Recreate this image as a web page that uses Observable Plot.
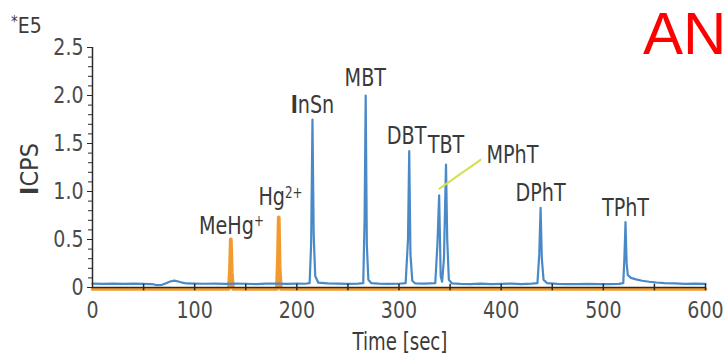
<!DOCTYPE html>
<html><head><meta charset="utf-8">
<script src="https://cdn.jsdelivr.net/npm/d3@7"></script>
<script src="https://cdn.jsdelivr.net/npm/@observablehq/plot@0.6"></script>
<style>
body{margin:0;background:#fff;}
#chart svg{display:block;}
</style></head><body><div id="chart"></div>
<script>
const FONT = '"Liberation Sans Narrow","DejaVu Sans Condensed","Arial Narrow",sans-serif';

// Blue trace (Sn species) – time [sec] and ICPS (×1E5)
const blueTime = [0, 10, 20, 30, 40, 50, 58, 63, 68, 72, 76, 80, 84, 88, 92, 100, 110, 120, 130, 140, 150, 160, 170, 180, 190, 200, 208, 212.5,
  214, 215.3, 216.5, 218, 221, 230, 240, 250, 260, 265, 266.3, 267.4, 268.5, 270, 273, 280, 290, 300, 306.5, 308.8, 310, 311.2, 313, 316,
  325, 335.5, 337.6, 339.3, 340.8, 342.2, 344, 346, 347.2, 348.8, 352, 360, 370, 380, 390, 400, 410, 420, 430, 435.5, 437.3, 438.6, 439.8, 441.5, 445,
  455, 465, 475, 485, 495, 505, 515, 519.5, 520.6, 521.7, 522.8, 524, 527, 532, 538, 545, 552, 560, 570, 580, 590, 600];
const blueICPS = [0.04, 0.038, 0.041, 0.038, 0.04, 0.037, 0.036, 0.025, 0.028, 0.045, 0.062, 0.072, 0.062, 0.05, 0.042, 0.04, 0.039, 0.041, 0.038, 0.04, 0.039, 0.036, 0.04, 0.041, 0.038, 0.04, 0.039, 0.045,
  0.45, 1.75, 0.55, 0.12, 0.05, 0.042, 0.04, 0.038, 0.04, 0.045, 0.7, 2.0, 0.45, 0.08, 0.045, 0.04, 0.037, 0.039, 0.045, 0.5, 1.42, 0.35, 0.07, 0.042,
  0.04, 0.045, 0.45, 0.96, 0.12, 0.06, 0.3, 1.28, 0.5, 0.08, 0.042, 0.038, 0.036, 0.04, 0.035, 0.038, 0.04, 0.036, 0.04, 0.045, 0.35, 0.83, 0.3, 0.08, 0.045,
  0.038, 0.036, 0.035, 0.038, 0.036, 0.035, 0.037, 0.045, 0.3, 0.68, 0.25, 0.13, 0.1, 0.085, 0.07, 0.06, 0.052, 0.046, 0.042, 0.038, 0.04, 0.038];

// Orange trace (Hg species)
const orangeTime = [0, 133.5, 134.6, 135.4, 136.3, 137.5, 180.5, 181.5, 182.3, 183.1, 184.3, 600];
const orangeICPS = [-0.015, -0.015, 0.2, 0.5, 0.16, -0.015, -0.015, 0.3, 0.73, 0.22, -0.015, -0.015];

// Peak labels
const peakNames = ["MeHg+", "Hg2+", "InSn", "MBT", "DBT", "TBT", "MPhT", "DPhT", "TPhT"];
const peakLabelTime = [136, 184, 215.3, 267, 307.5, 346, 411, 438.5, 521.7];
const peakLabelICPS = [0.5625, 0.855, 1.82, 2.10, 1.50, 1.40, 1.30, 0.906, 0.75];

// Leader line for MPhT
const leaderTime = [339.6, 379.8];
const leaderICPS = [1.03, 1.33];

// Ticks
const xTicks = [0, 100, 200, 300, 400, 500, 600];
const xMinorTicks = [50, 100, 150, 200, 250, 300, 350, 400, 450, 500, 550, 600];
const yTicks = [0, 0.5, 1.0, 1.5, 2.0, 2.5];
const yMinorTicks = [0, 0.1, 0.2, 0.3, 0.4, 0.5, 0.6, 0.7, 0.8, 0.9, 1.0, 1.1, 1.2, 1.3, 1.4, 1.5, 1.6, 1.7, 1.8, 1.9, 2.0, 2.1, 2.2, 2.3, 2.4, 2.5];

const blue = blueTime.map((t, i) => ({t, v: blueICPS[i]}));
const orange = orangeTime.map((t, i) => ({t, v: orangeICPS[i]}));
const peaks = peakNames.map((n, i) => ({n, t: peakLabelTime[i], v: peakLabelICPS[i]}));
const leader = leaderTime.map((t, i) => ({t, v: leaderICPS[i]}));

const chart = Plot.plot({
  width: 724,
  height: 357,
  marginLeft: 92,
  marginRight: 19,
  marginTop: 47,
  marginBottom: 70,
  style: {fontFamily: FONT, background: "#fff", color: "#444"},
  x: {domain: [0, 600]},
  y: {domain: [0, 2.5]},
  marks: [
    Plot.line(orange, {x: "t", y: "v", stroke: "#f29a2e", strokeWidth: 3.8}),
    Plot.line(blue, {x: "t", y: "v", stroke: "#4a89c8", strokeWidth: 2.2}),
    Plot.ruleY([0], {stroke: "#2a2a2a", strokeWidth: 1.5}),
    Plot.ruleX(xMinorTicks, {x: d => d, y1: -0.035, y2: 0.035, stroke: "#2a2a2a", strokeWidth: 1.5}),
    Plot.ruleX([0], {stroke: "#2a2a2a", strokeWidth: 1.5}),
    Plot.axisY({ticks: yMinorTicks, tickSize: 4, tickFormat: () => "", label: null, stroke: "#2a2a2a"}),
    Plot.axisY({ticks: yTicks, tickSize: 5, tickPadding: 4, fontSize: 23.5, fill: "#4a4a4a", label: null,
      tickFormat: d => d === 0 ? "0" : d.toFixed(1), stroke: "#2a2a2a"}),
    Plot.axisX({ticks: xTicks, tickSize: 0, tickPadding: 14, fontSize: 23.5, fill: "#4a4a4a", label: null,
      tickFormat: d => String(d)}),
    Plot.line(leader, {x: "t", y: "v", stroke: "#d5e04e", strokeWidth: 2}),
    Plot.text(peaks, {x: "t", y: "v", text: "n", fontSize: 24.5, lineAnchor: "bottom", fill: "#3a3a3a"})
  ]
});

document.getElementById("chart").appendChild(chart);
const svg = d3.select(chart);

// condense a text element horizontally (no narrow face installed)
function condense(el, f) {
  const w = el.getComputedTextLength();
  if (w > 0) {
    el.setAttribute("textLength", (w * f).toFixed(1));
    el.setAttribute("lengthAdjust", "spacingAndGlyphs");
  }
}

// rich-text fixes for labels (superscripts and bold I)
svg.selectAll("text, tspan").each(function() {
  const el = this;
  if (el.childNodes.length !== 1 || el.firstChild.nodeType !== 3) return;
  const s = el.textContent;
  const sel = d3.select(el);
  if (s === "MeHg+" || s === "Hg2+") {
    const base = s === "MeHg+" ? "MeHg" : "Hg";
    const sup = s === "MeHg+" ? "+" : "2+";
    el.textContent = base;
    sel.append("tspan").attr("dy", "-0.5em").attr("font-size", "0.62em").text(sup);
  } else if (s === "InSn") {
    el.textContent = "";
    sel.append("tspan").attr("font-weight", "bold").text("I");
    sel.append("tspan").text("nSn");
  }
});

// condense axis tick labels and peak labels
svg.selectAll("g[aria-label='x-axis tick label'] text, g[aria-label='y-axis tick label'] text")
  .each(function() { condense(this, 0.9); });
svg.selectAll("g[aria-label='text'] text").each(function() { condense(this, 0.87); });

// y-axis title
const yTitle = svg.append("text")
  .attr("transform", "translate(38,169) rotate(-90)")
  .attr("text-anchor", "middle")
  .attr("font-family", FONT).attr("font-size", 25).attr("fill", "#3a3a3a");
yTitle.append("tspan").attr("font-weight", "bold").text("I");
yTitle.append("tspan").text("CPS");

// x-axis title
const xTitle = svg.append("text")
  .attr("x", 400).attr("y", 350)
  .attr("text-anchor", "middle")
  .attr("font-family", FONT).attr("font-size", 24).attr("fill", "#3a3a3a")
  .text("Time [sec]");
condense(xTitle.node(), 0.84);

// exponent note
const e5 = svg.append("text")
  .attr("x", 11).attr("y", 33)
  .attr("text-anchor", "start")
  .attr("font-family", FONT).attr("font-size", 21).attr("fill", "#3a3a3a");
e5.append("tspan").attr("font-size", 15).attr("dy", -6).text("*");
e5.append("tspan").attr("dy", 6).text("E5");

// red corner mark
svg.append("text")
  .attr("x", 643).attr("y", 54)
  .attr("text-anchor", "start")
  .attr("font-family", '"Liberation Sans", Arial, sans-serif').attr("font-size", 60).attr("fill", "#ff0000")
  .text("AN");
</script></body></html>
